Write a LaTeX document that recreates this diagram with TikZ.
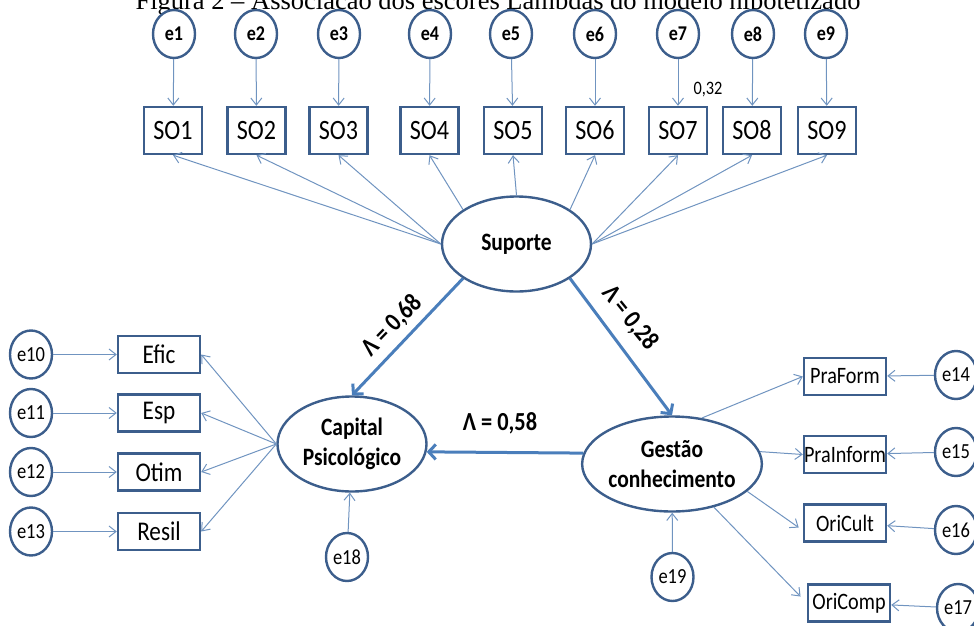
\documentclass[tikz,border=0pt]{standalone}
\usepackage{fontspec}
\setmainfont{Carlito}[FakeStretch=0.86]
\newfontfamily\titlerm{Liberation Serif}
\usepackage{xcolor}
\usetikzlibrary{arrows.meta,shapes.geometric}

\definecolor{nodeblue}{RGB}{60,94,140}
\definecolor{thinblue}{RGB}{112,148,192}
\definecolor{thickblue}{RGB}{74,126,187}

\begin{document}
\begin{tikzpicture}[
    x=1pt,y=-1pt,
    err/.style={ellipse, draw=nodeblue, line width=2.4pt, fill=white, minimum width=42pt, minimum height=48pt, inner sep=0pt, font=\fontsize{21}{23}\selectfont\bfseries},
    errs/.style={err, font=\fontsize{21.5}{23}\selectfont},
    item/.style={draw=nodeblue, line width=2.4pt, fill=white, minimum width=58pt, minimum height=47pt, inner sep=0pt, font=\fontsize{28}{30}\selectfont},
    wide/.style={item, minimum width=82pt, minimum height=37pt, font=\fontsize{27}{29}\selectfont},
    latent/.style={ellipse, draw=nodeblue, line width=2.4pt, fill=white, minimum width=149pt, minimum height=95pt, inner sep=0pt, align=center, font=\fontsize{25}{30}\selectfont\bfseries},
    load/.style={-{Straight Barb[length=7pt,width=11pt]}, draw=thinblue, line width=1pt},
    path/.style={-{Straight Barb[length=7pt,width=15pt]}, draw=thickblue, line width=3pt},
    coef/.style={font=\fontsize{26}{28}\selectfont\bfseries}
  ]
    \clip (0,0) rectangle (974,626);
    \node[anchor=base, font=\titlerm\fontsize{26.5}{28}\selectfont] (title) at (498,10) {Figura 2 – Associação dos escores Lambdas do modelo hipotetizado};

    % suporte
    \node[latent] (sup) at (516.5,244) {Suporte};
    \node[item] (so1) at (173,130.5) {SO1};
    \node[item] (so2) at (256.5,130.5) {SO2};
    \node[item] (so3) at (338.5,130.5) {SO3};
    \node[item] (so4) at (429.5,130.5) {SO4};
    \node[item] (so5) at (513,130.5) {SO5};
    \node[item] (so6) at (595,130.5) {SO6};
    \node[item] (so7) at (678,130.5) {SO7};
    \node[item] (so8) at (752,130.5) {SO8};
    \node[item] (so9) at (827,130.5) {SO9};
    \node[err] (e1) at (174,34) {e1};
    \node[err] (e2) at (256,34) {e2};
    \node[err] (e3) at (339,34) {e3};
    \node[err] (e4) at (430,34) {e4};
    \node[err] (e5) at (511,34) {e5};
    \node[err] (e6) at (595,34) {e6};
    \node[err] (e7) at (678,34) {e7};
    \node[err] (e8) at (753,34) {e8};
    \node[err] (e9) at (826,34) {e9};
    \draw[load] (e1) -- (so1);
    \draw[load] (e2) -- (so2);
    \draw[load] (e3) -- (so3);
    \draw[load] (e4) -- (so4);
    \draw[load] (e5) -- (so5);
    \draw[load] (e6) -- (so6);
    \draw[load] (e7) -- (so7);
    \draw[load] (e8) -- (so8);
    \draw[load] (e9) -- (so9);
    \node[font=\fontsize{19}{21}\selectfont] (w7) at (708,90) {0,32};
    \draw[load] (sup.west) -- (so1.south);
    \draw[load] (sup.west) -- (so2.south);
    \draw[load] (sup.west) -- (so3.south);
    \draw[load] (sup.north west) -- (so4.south);
    \draw[load] (sup.north) -- (so5.south);
    \draw[load] (sup.north east) -- (so6.south);
    \draw[load] (sup.east) -- (so7.south);
    \draw[load] (sup.east) -- (so8.south);
    \draw[load] (sup.east) -- (so9.south);

    % capital psicologico
    \node[latent] (cap) at (352,444) {Capital\\Psicológico};
    \node[wide] (efic) at (159,354.5) {Efic};
    \node[wide] (esp) at (159,413) {Esp};
    \node[wide] (otim) at (159,472) {Otim};
    \node[wide] (resil) at (159,531.5) {Resil};
    \node[errs] (e10) at (31,354.5) {e10};
    \node[errs] (e11) at (31,413) {e11};
    \node[errs] (e12) at (31,472) {e12};
    \node[errs] (e13) at (31,531.5) {e13};
    \node[errs] (e18) at (347,557) {e18};
    \draw[load] (e10) -- (efic);
    \draw[load] (e11) -- (esp);
    \draw[load] (e12) -- (otim);
    \draw[load] (e13) -- (resil);
    \draw[load] (cap.west) -- (efic.east);
    \draw[load] (cap.west) -- (esp.east);
    \draw[load] (cap.west) -- (otim.east);
    \draw[load] (cap.west) -- (resil.east);
    \draw[load] (e18) -- (cap);

    % gestao do conhecimento
    \node[latent] (ges) at (672,464) {Gestão\\conhecimento};
    \node[wide, font=\fontsize{23.5}{25}\selectfont] (praform) at (845,376.5) {PraForm};
    \node[wide, font=\fontsize{23.5}{25}\selectfont] (prainform) at (845,454.5) {PraInform};
    \node[wide, font=\fontsize{23.5}{25}\selectfont] (oricult) at (845,523) {OriCult};
    \node[wide, font=\fontsize{23.5}{25}\selectfont] (oricomp) at (849,603) {OriComp};
    \node[errs] (e14) at (956,375) {e14};
    \node[errs] (e15) at (956,452) {e15};
    \node[errs] (e16) at (956,530) {e16};
    \node[errs] (e17) at (958,608) {e17};
    \node[errs] (e19) at (672.5,577) {e19};
    \draw[load] (e14) -- (praform);
    \draw[load] (e15) -- (prainform);
    \draw[load] (e16) -- (oricult);
    \draw[load] (e17) -- (oricomp);
    \draw[load] (ges.57) -- (praform.west);
    \draw[load] (ges.8) -- (prainform.west);
    \draw[load, shorten >=5pt] (ges.-20) -- (oricult.190);
    \draw[load, shorten >=9pt] (ges) -- (oricomp.west);
    \draw[load] (e19) -- (ges);

    % caminhos estruturais
    \draw[path] (sup.south west) -- (cap.north);
    \draw[path] (sup.south east) -- (ges.north);
    \draw[path] (ges.173) -- (cap.-6);
    \node[coef, rotate=46] (l68) at (392,326) {Λ = 0,68};
    \node[coef, rotate=-51] (l28) at (630,318) {Λ = 0,28};
    \node[coef] (l58) at (500,423) {Λ = 0,58};
  \end{tikzpicture}
\end{document}
